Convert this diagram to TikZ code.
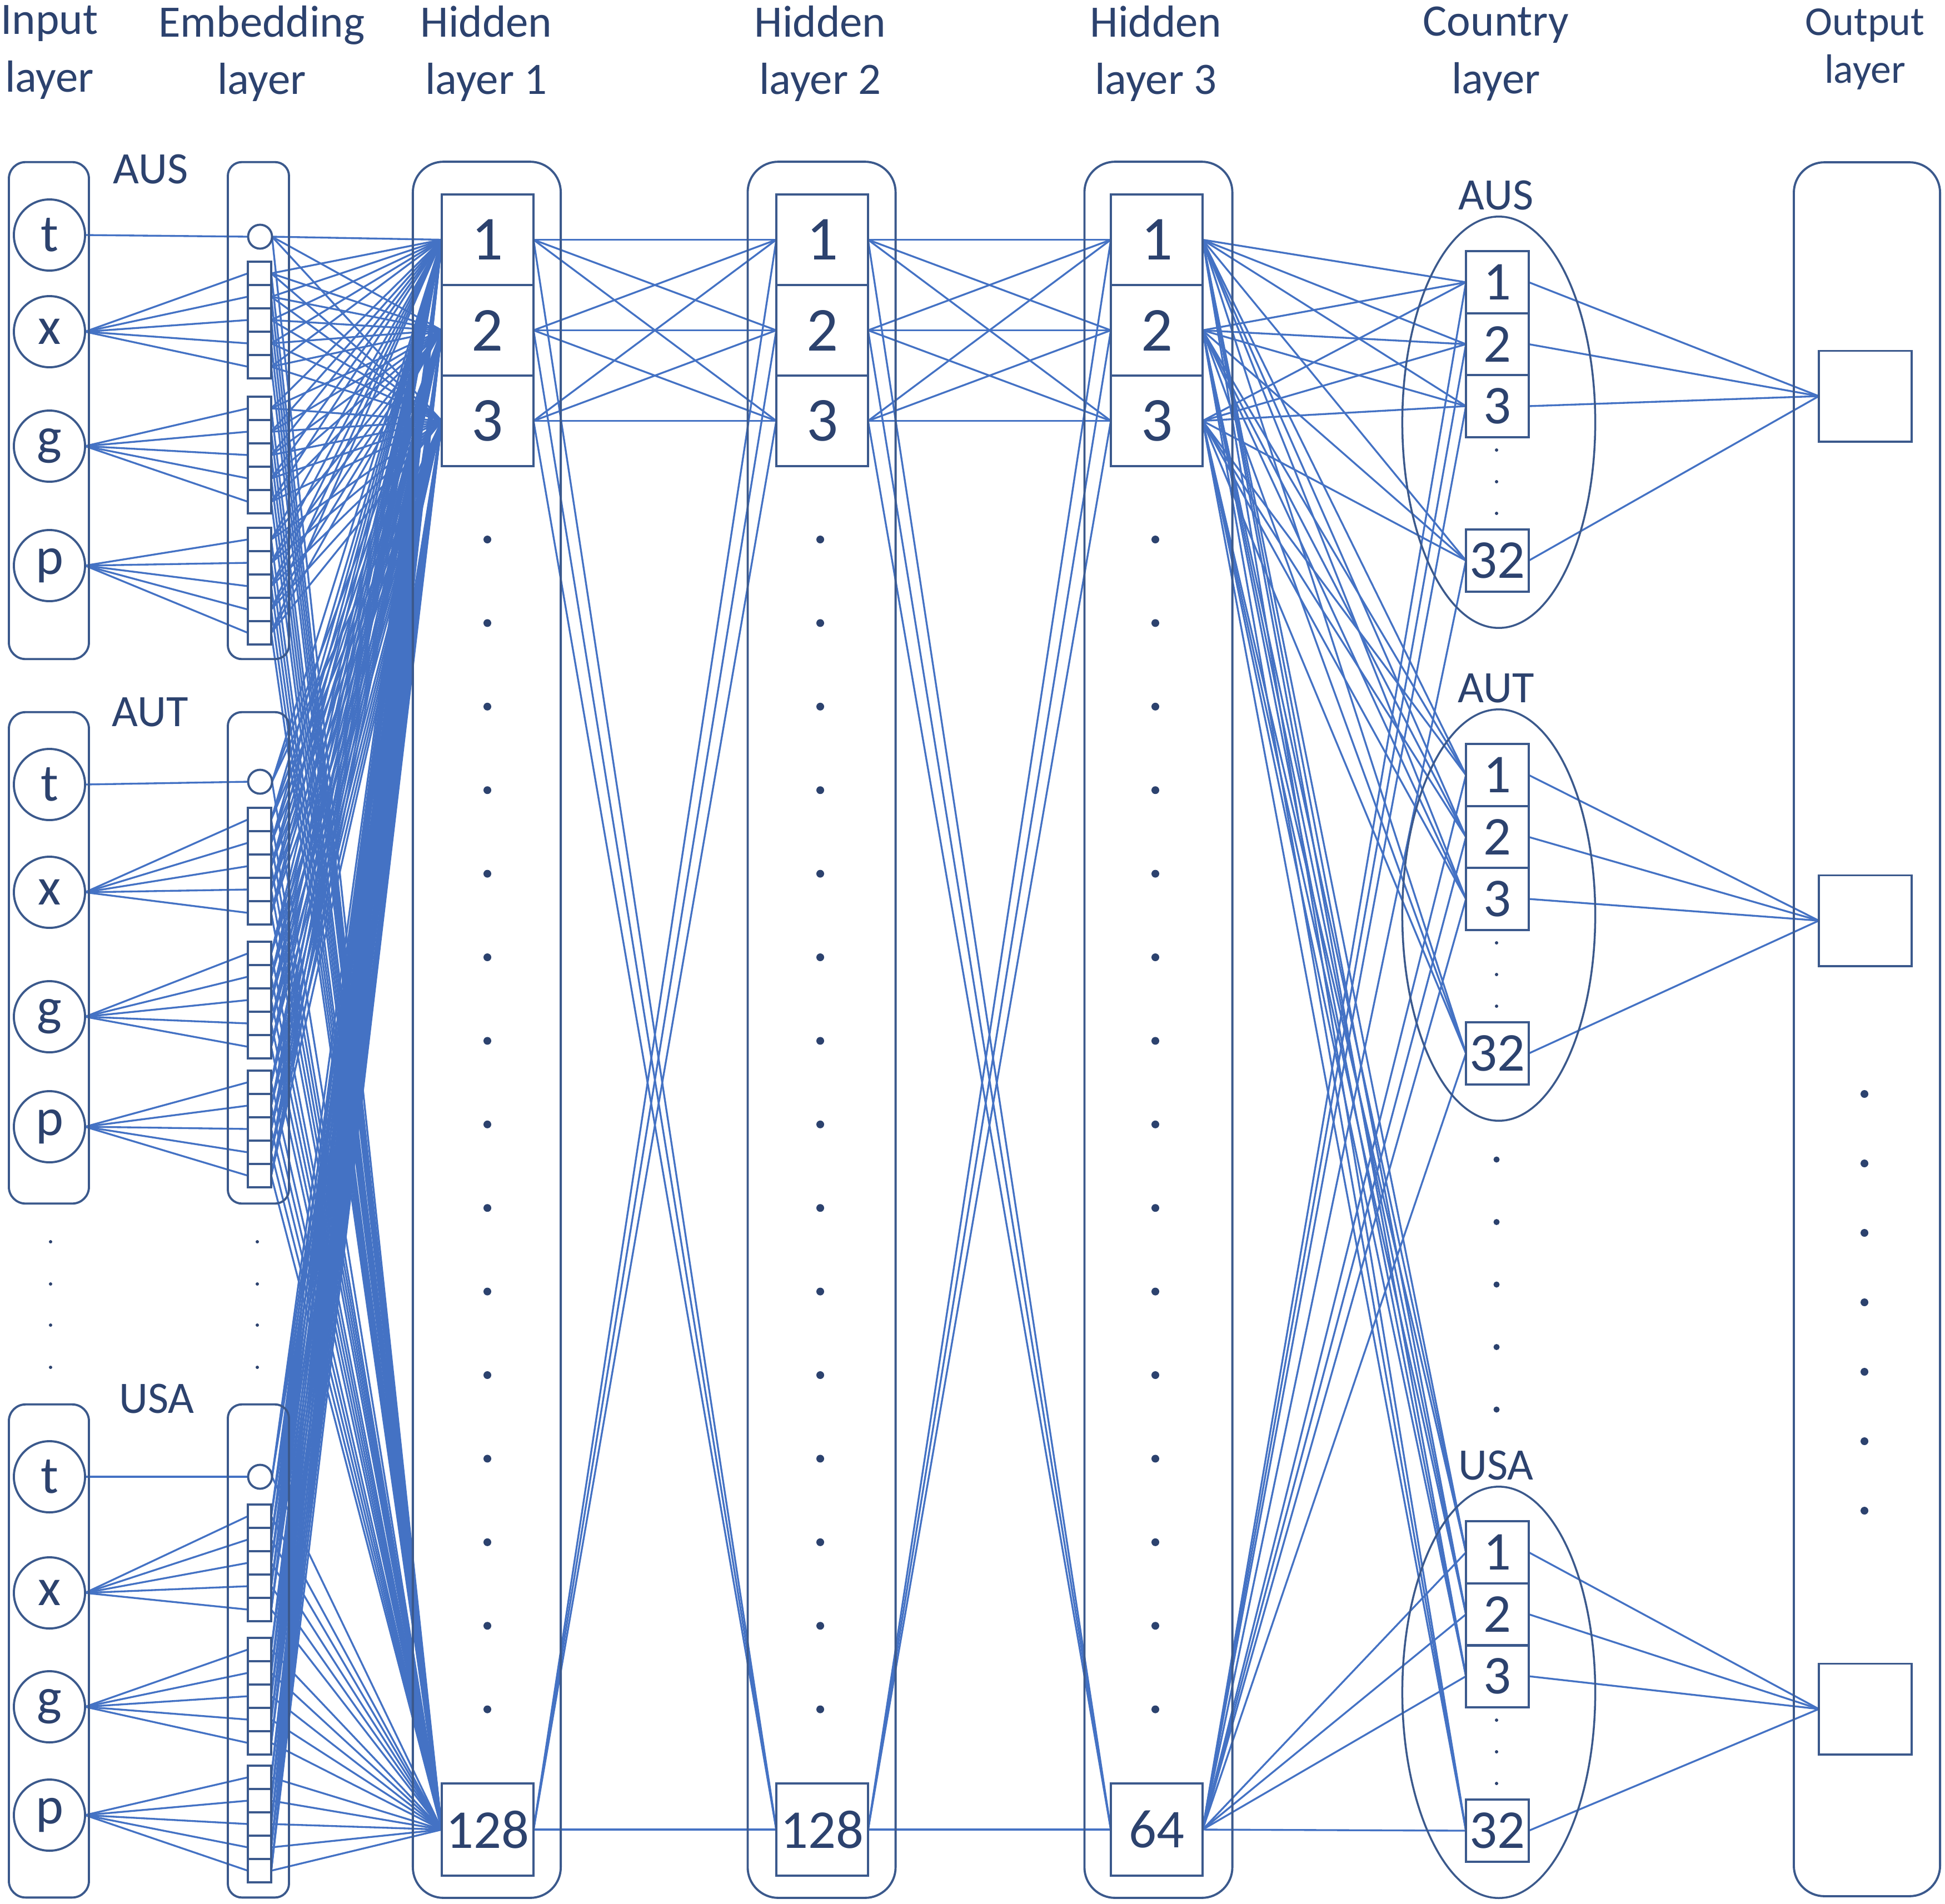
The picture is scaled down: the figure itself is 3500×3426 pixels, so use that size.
\documentclass[tikz,border=0pt]{standalone}
\usepackage{fontspec}
\setmainfont{Carlito}
\usetikzlibrary{shapes.geometric}
\definecolor{txtcol}{RGB}{44,66,110}
\definecolor{outcol}{RGB}{59,89,140}
\definecolor{edgecol}{RGB}{68,114,196}
\pgfdeclarelayer{bg}
\pgfsetlayers{bg,main}
\begin{document}
\begin{tikzpicture}[x=0.01cm,y=-0.01cm,
  every node/.style={inner sep=0pt, outer sep=0pt},
  outl/.style={draw=outcol, line width=1.1pt},
  inbox/.style={outl, rounded corners=0.3cm, minimum width=1.44cm},
  embbox/.style={outl, rounded corners=0.25cm, minimum width=1.10cm},
  hlayer/.style={outl, rounded corners=0.55cm, minimum width=2.66cm, minimum height=31.23cm},
  olayer/.style={outl, rounded corners=0.55cm, minimum width=2.63cm, minimum height=31.19cm},
  hnode/.style={outl, minimum width=1.65cm, minimum height=1.63cm, text=txtcol, font=\fontsize{32}{32}\selectfont},
  hbig/.style={hnode, minimum height=1.66cm, font=\fontsize{28}{28}\selectfont},
  cnode/.style={outl, minimum width=1.13cm, minimum height=1.12cm, text=txtcol, font=\fontsize{28}{28}\selectfont},
  onode/.style={outl, minimum width=1.67cm, minimum height=1.63cm},
  incirc/.style={outl, circle, minimum size=1.28cm, text=txtcol, font=\fontsize{27}{27}\selectfont},
  embcirc/.style={outl, circle, minimum size=0.43cm},
  embsq/.style={outl, minimum width=0.42cm, minimum height=0.42cm},
  cell/.style={draw=outcol, line width=1.0pt, ellipse, minimum width=3.47cm, minimum height=7.40cm},
  dotmark/.style={circle, fill=txtcol, minimum size=0.14cm},
  smalldot/.style={circle, fill=txtcol, minimum size=0.11cm},
  tinydot/.style={circle, fill=txtcol, minimum size=0.06cm},
  grplbl/.style={text=txtcol, font=\fontsize{23}{23}\selectfont},
  ttl/.style={text=txtcol, align=center, anchor=north, font=\fontsize{23}{29.5}\selectfont},
  conn/.style={draw=edgecol, line width=0.95pt}
]
\useasboundingbox (0,0) rectangle (3500,3426);

% ---------- titles ----------
\node[ttl] (tIn) at (89,10) {Input\\layer};
\node[ttl] (tEmb) at (471,10) {Embedding\\layer};
\node[ttl] (tH1) at (875,10) {Hidden\\layer 1};
\node[ttl] (tH2) at (1476,10) {Hidden\\layer 2};
\node[ttl] (tH3) at (2080,10) {Hidden\\layer 3};
\node[ttl] (tC) at (2692,12) {Country\\layer};
\node[ttl, font=\fontsize{21}{24.2}\selectfont] (tOut) at (3356,16) {Output\\layer};

% ---------- input and embedding groups ----------
\foreach \g/\tp/\bt/\lb/\lx/\ty/\xy/\gy/\py/\cy/\sa/\sb/\sc in
 {AUS/292/1186/305/271/423/597/803/1018/426/471/714/950,
  AUT/1282/2166/1282/270/1412/1606/1830/2028/1407/1454/1695/1927,
  USA/2528/3415/2518/282/2658/2867/3072/3267/2658/2708/2948/3178}{
  \pgfmathsetmacro\md{(\tp+\bt)/2}
  \pgfmathsetmacro\hh{(\bt-\tp)/100}
  \node[inbox, minimum height=\hh cm] (in\g) at (88,\md) {};
  \node[embbox, minimum height=\hh cm] (em\g) at (465,\md) {};
  \node[grplbl] (il\g) at (\lx,\lb) {\g};
  \node[incirc] (inT\g) at (89,\ty) {t};
  \node[incirc] (inX\g) at (89,\xy) {x};
  \node[incirc] (inG\g) at (89,\gy) {g};
  \node[incirc] (inP\g) at (89,\py) {p};
  \node[embcirc] (eC\g) at (468,\cy) {};
  \foreach \k in {1,...,5}{
    \node[embsq] (eS\g\k) at (467,{\sa+21+42*(\k-1)}) {};
  }
  \foreach \k in {6,...,10}{
    \node[embsq] (eS\g\k) at (467,{\sb+21+42*(\k-6)}) {};
  }
  \foreach \k in {11,...,15}{
    \node[embsq] (eS\g\k) at (467,{\sc+21+42*(\k-11)}) {};
  }
  \begin{pgfonlayer}{bg}
    \draw[conn] (inT\g.east) -- (eC\g.west);
    \foreach \k in {1,...,5}{\draw[conn] (inX\g.east) -- (eS\g\k.west);}
    \foreach \k in {6,...,10}{\draw[conn] (inG\g.east) -- (eS\g\k.west);}
    \foreach \k in {11,...,15}{\draw[conn] (inP\g.east) -- (eS\g\k.west);}
  \end{pgfonlayer}
}
% dots between input groups
\foreach \k/\yy in {1/2235,2/2311,3/2385,4/2461}{
  \node[tinydot] (idot\k) at (91,\yy) {};
  \node[tinydot] (edot\k) at (463,\yy) {};
}

% ---------- hidden layers ----------
\node[hlayer] (layA) at (876,1853.5) {};
\node[hlayer] (layB) at (1478.5,1853.5) {};
\node[hlayer] (layC) at (2084.5,1853.5) {};

\node[hnode] (hA1) at (877.5,431.5) {1};
\node[hnode] (hA2) at (877.5,594.5) {2};
\node[hnode] (hA3) at (877.5,757.5) {3};
\node[hbig]  (hAb) at (877.5,3293) {128};
\node[hnode] (hB1) at (1479.5,431.5) {1};
\node[hnode] (hB2) at (1479.5,594.5) {2};
\node[hnode] (hB3) at (1479.5,757.5) {3};
\node[hbig]  (hBb) at (1479.5,3293) {128};
\node[hnode] (hC1) at (2081.5,431.5) {1};
\node[hnode] (hC2) at (2081.5,594.5) {2};
\node[hnode] (hC3) at (2081.5,757.5) {3};
\node[hbig]  (hCb) at (2081.5,3293) {64};

\foreach \k in {0,...,14}{
  \node[dotmark] (dA\k) at (877,{971+150.4*\k}) {};
  \node[dotmark] (dB\k) at (1476,{971+150.4*\k}) {};
  \node[dotmark] (dC\k) at (2079,{971+150.4*\k}) {};
}

% ---------- country layer ----------
\foreach \g/\off in {AUS/0, AUT/887, USA/2286}{
  \node[cell] (el\g) at (2697,{760+\off}) {};
  \node[grplbl] (cl\g) at (2692,{352+\off}) {\g};
  \node[cnode] (k\g1) at (2694.5,{508+\off}) {1};
  \node[cnode] (k\g2) at (2694.5,{619.5+\off}) {2};
  \node[cnode] (k\g3) at (2694.5,{731+\off}) {3};
  \node[cnode] (k\g4) at (2694.5,{1009+\off}) {32};
  \node[tinydot] (kd\g1) at (2693,{810+\off}) {};
  \node[tinydot] (kd\g2) at (2693,{867+\off}) {};
  \node[tinydot] (kd\g3) at (2693,{924+\off}) {};
}
\foreach \k in {0,...,4}{
  \node[smalldot] (cdot\k) at (2693,{2087+112.5*\k}) {};
}

% ---------- output layer ----------
\node[olayer] (layO) at (3359.5,1852.5) {};
\node[onode] (oAUS) at (3356.5,713) {};
\node[onode] (oAUT) at (3356.5,1657) {};
\node[onode] (oUSA) at (3356.5,3076) {};
\foreach \k in {0,...,6}{
  \node[dotmark] (odot\k) at (3355,{1969+125*\k}) {};
}

% ---------- connections ----------
\begin{pgfonlayer}{bg}
  % embedding -> hidden 1
  \foreach \g in {AUS,AUT,USA}{
    \foreach \h in {1,2,3,b}{
      \draw[conn] (eC\g.east) -- (hA\h.west);
      \foreach \k in {1,...,15}{\draw[conn] (eS\g\k.east) -- (hA\h.west);}
    }
  }
  % hidden 1 -> hidden 2 -> hidden 3
  \foreach \i in {1,2,3,b}{
    \foreach \j in {1,2,3,b}{
      \draw[conn] (hA\i.east) -- (hB\j.west);
      \draw[conn] (hB\i.east) -- (hC\j.west);
    }
  }
  % hidden 3 -> country
  \foreach \i in {1,2,3,b}{
    \foreach \g in {AUS,AUT,USA}{
      \foreach \k in {1,2,3,4}{\draw[conn] (hC\i.east) -- (k\g\k.west);}
    }
  }
  % country -> output
  \foreach \g in {AUS,AUT,USA}{
    \foreach \k in {1,2,3,4}{\draw[conn] (k\g\k.east) -- (o\g.west);}
  }
\end{pgfonlayer}
\end{tikzpicture}
\end{document}
